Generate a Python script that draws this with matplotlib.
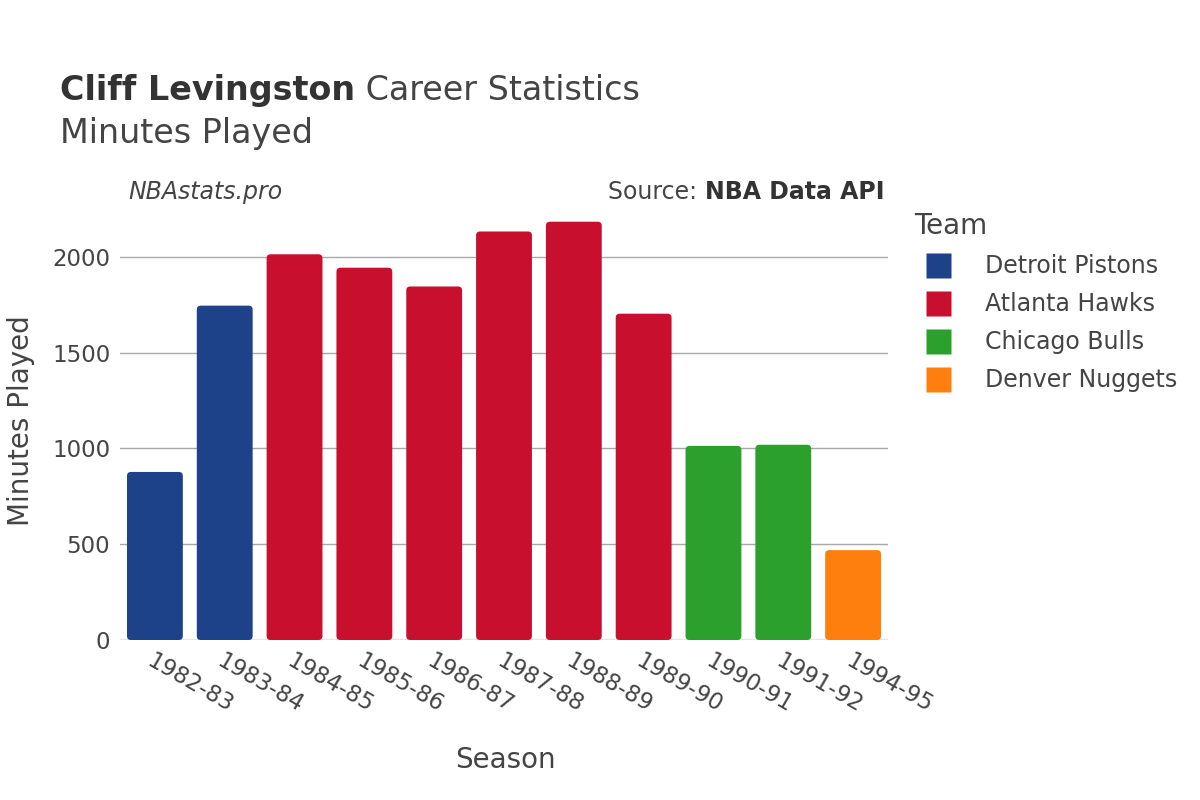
import matplotlib.pyplot as plt
from matplotlib.patches import FancyBboxPatch
from matplotlib.lines import Line2D

# Data
seasons = ["1982-83", "1983-84", "1984-85", "1985-86", "1986-87", "1987-88",
           "1988-89", "1989-90", "1990-91", "1991-92", "1994-95"]
minutes = [877, 1745, 2013, 1943, 1845, 2132, 2183, 1703, 1013, 1019, 469]
teams = ["Detroit Pistons", "Detroit Pistons", "Atlanta Hawks", "Atlanta Hawks",
         "Atlanta Hawks", "Atlanta Hawks", "Atlanta Hawks", "Atlanta Hawks",
         "Chicago Bulls", "Chicago Bulls", "Denver Nuggets"]
team_order = ["Detroit Pistons", "Atlanta Hawks", "Chicago Bulls", "Denver Nuggets"]
team_colors = {"Detroit Pistons": "#1D428A", "Atlanta Hawks": "#C8102E",
               "Chicago Bulls": "#2CA02C", "Denver Nuggets": "#FF7F0E"}

text_color = "#444444"
plt.rcParams["font.family"] = ["DejaVu Sans"]

fig = plt.figure(figsize=(12, 8), dpi=100)
ax = fig.add_axes([0.1, 0.2, 0.64, 0.549])

x = list(range(len(seasons)))
ymax = max(minutes) * 1.05
ax.set_xlim(-0.5, len(seasons) - 0.5)
ax.set_ylim(0, ymax)

# rounded bars: plain bars give the geometry, rounded boxes are drawn on top
bars = ax.bar(x, minutes, width=0.8, color=[team_colors[t] for t in teams])
px_x = 768 / len(seasons)
px_y = 439 / ymax
for b in bars:
    b.set_visible(False)
    r = FancyBboxPatch((b.get_x(), 0), b.get_width(), b.get_height(),
                       boxstyle="round,pad=0,rounding_size=%f" % (4 / px_x),
                       mutation_aspect=px_x / px_y,
                       facecolor=b.get_facecolor(), edgecolor="none", zorder=3)
    ax.add_patch(r)

ax.set_yticks([0, 500, 1000, 1500, 2000])
ax.grid(axis="y", color="#a8a8a8", linewidth=1, zorder=0)
ax.axhline(0, color="#e6e6e6", linewidth=2.5, zorder=2)
for s in ax.spines.values():
    s.set_visible(False)
ax.tick_params(length=0, labelsize=16.5, colors=text_color, pad=7)
ax.set_xticks(x)
ax.set_xticklabels(seasons, rotation=-30, ha="left", rotation_mode="anchor")
for lbl in ax.get_xticklabels():
    lbl.set_color(text_color)

fig.text(505 / 1200, 1 - 760 / 800, "Season", fontsize=20, color=text_color,
         ha="center", va="center")
ax.set_ylabel("Minutes Played", fontsize=20, color=text_color, labelpad=12)

# titles
t1 = fig.text(0.05, 0.887, "Cliff Levingston", fontsize=24, fontweight="bold",
              color="#333333", va="center")
fig.add_artist(plt.Annotation(" Career Statistics", xy=(1, 0.5), xycoords=t1,
                              va="center", fontsize=24, color=text_color))
fig.text(0.05, 0.833, "Minutes Played", fontsize=24, color=text_color, va="center")
fig.text(0.107, 0.76, "NBAstats.pro", fontsize=17, style="italic",
         color=text_color, va="center")
t2 = fig.text(0.737, 0.76, "NBA Data API", fontsize=17, fontweight="bold",
              color="#333333", va="center", ha="right")
fig.add_artist(plt.Annotation("Source: ", xy=(0, 0.5), xycoords=t2, ha="right",
                              va="center", fontsize=17, color=text_color))

handles = [Line2D([0], [0], marker="s", linestyle="none", markersize=18,
                  markerfacecolor=team_colors[t], markeredgecolor="none")
           for t in team_order]
leg = fig.legend(handles, team_order, loc="upper left",
                 bbox_to_anchor=(0.752, 0.75), frameon=False,
                 title="Team", fontsize=17, title_fontsize=20,
                 labelspacing=0.6, handletextpad=1.0, borderpad=0)
leg._legend_box.align = "left"
leg.get_title().set_color(text_color)
for t in leg.get_texts():
    t.set_color(text_color)

fig.savefig("out.png", dpi=100)
